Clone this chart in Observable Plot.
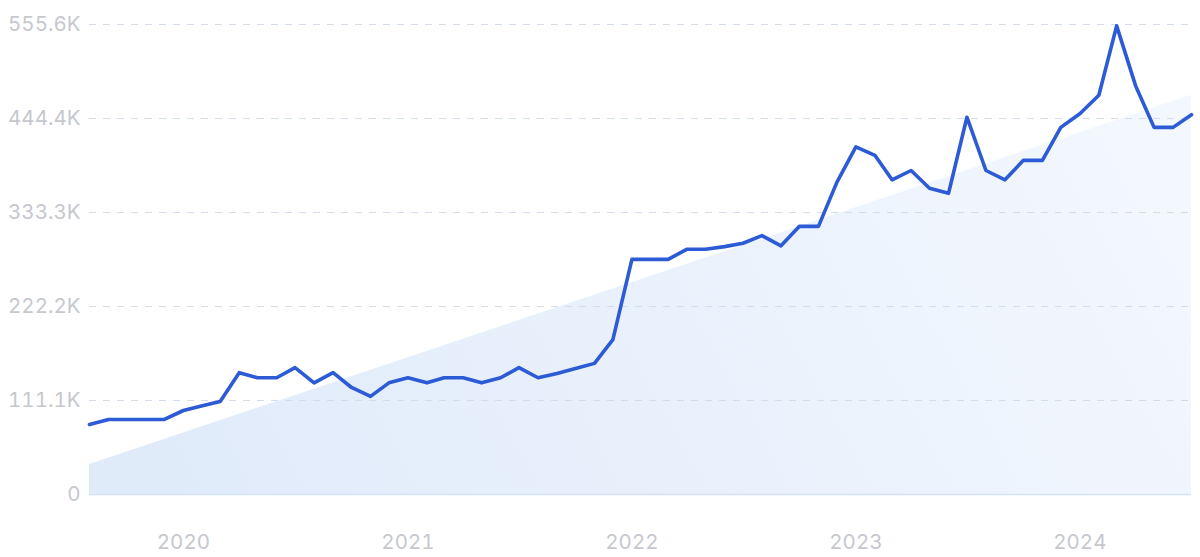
<!DOCTYPE html>
<html>
<head>
<meta charset="utf-8">
<script src="https://cdn.jsdelivr.net/npm/d3@7"></script>
<script src="https://cdn.jsdelivr.net/npm/@observablehq/plot@0.6"></script>
<style>
  html, body { margin: 0; padding: 0; background: #ffffff; }
  #chart { width: 1200px; height: 557px; }
  svg { font-family: Inter, "Noto Sans", sans-serif; }
</style>
</head>
<body>
<div id="chart"></div>
<script>
// Monthly series, Aug 2019 .. Jul 2024
const startMonth = "2019-08-01";
const values = [
  82700, 88700, 88700, 88700, 88700, 99300, 105000, 110000, 144000, 138000,
  138000, 150000, 132000, 144000, 126500, 116000, 132000, 138000, 132000, 138000,
  138000, 132000, 138000, 150000, 138000, 143000, 149000, 155000, 183000, 278000,
  278000, 278000, 290000, 290000, 293000, 297000, 306000, 294000, 317000, 317000,
  369000, 411000, 401000, 372000, 383000, 362000, 356000, 446000, 383000, 372000,
  395000, 395000, 434000, 450000, 472000, 554000, 483000, 434000, 434000, 449000
];
// Trend line endpoints (first and last month)
const trendValues = [35500, 472000];
// Axis ticks
const yTicks = [0, 111100, 222200, 333300, 444400, 555600];
const yTickLabels = ["0", "111.1K", "222.2K", "333.3K", "444.4K", "555.6K"];
const yearTicks = ["2020-01-01", "2021-01-01", "2022-01-01", "2023-01-01", "2024-01-01"];

const start = new Date(startMonth);
const data = values.map((v, i) => ({date: d3.utcMonth.offset(start, i), value: v}));
const trend = [
  {date: data[0].date, value: trendValues[0]},
  {date: data[data.length - 1].date, value: trendValues[1]}
];
const labelOf = new Map(yTicks.map((t, i) => [t, yTickLabels[i]]));

const plot = Plot.plot({
  width: 1200,
  height: 557,
  marginLeft: 89,
  marginRight: 9,
  marginTop: 24,
  marginBottom: 63,
  style: {fontFamily: "Inter, 'Noto Sans', sans-serif", background: "#ffffff"},
  x: {type: "utc", domain: [data[0].date, data[data.length - 1].date]},
  y: {domain: [0, 555600]},
  marks: [
    Plot.areaY(trend, {x: "date", y: "value", fill: "url(#trendGrad)"}),
    Plot.ruleY(yTicks.filter(t => t > 0), {stroke: "#d3dceb", strokeDasharray: "7,7", strokeWidth: 1}),
    Plot.ruleY([0], {stroke: "#d4e2f6", strokeWidth: 1.5}),
    Plot.axisY({ticks: yTicks, tickSize: 0, tickPadding: 9, tickFormat: d => labelOf.get(d),
      fontSize: 20.5, fill: "#c6c8ce", label: null}),
    Plot.axisX({ticks: yearTicks.map(d => new Date(d)), tickSize: 0, tickPadding: 40,
      tickFormat: "%Y", fontSize: 20.5, fill: "#c6c8ce", label: null}),
    Plot.line(data, {x: "date", y: "value", stroke: "#2c5bd5", strokeWidth: 3.6,
      strokeLinejoin: "round", strokeLinecap: "round"})
  ]
});

const ns = "http://www.w3.org/2000/svg";
const defs = document.createElementNS(ns, "defs");
const grad = document.createElementNS(ns, "linearGradient");
grad.setAttribute("id", "trendGrad");
grad.setAttribute("x1", "0"); grad.setAttribute("y1", "0.6");
grad.setAttribute("x2", "1"); grad.setAttribute("y2", "0.4");
[["0", "#e0ebfa"], ["1", "#f3f7fe"]].forEach(([o, c]) => {
  const s = document.createElementNS(ns, "stop");
  s.setAttribute("offset", o); s.setAttribute("stop-color", c);
  grad.appendChild(s);
});
defs.appendChild(grad);
plot.insertBefore(defs, plot.firstChild);
document.getElementById("chart").appendChild(plot);
</script>
</body>
</html>
